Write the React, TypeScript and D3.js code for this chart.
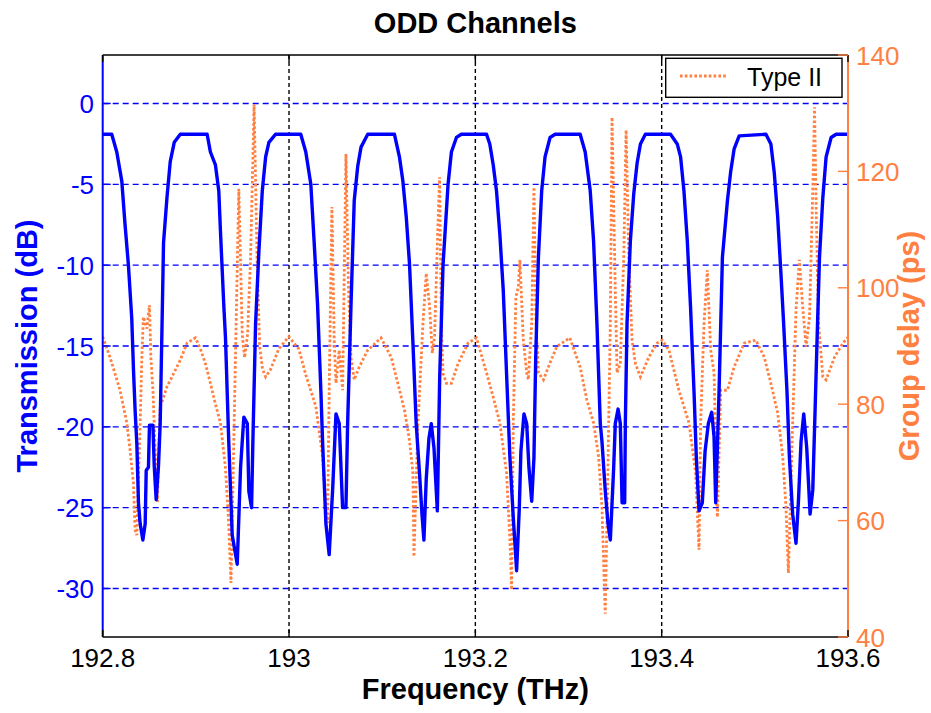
import React from "react";
import * as d3 from "d3";

const W = 931;
const H = 713;

// Transmission (dB) vs frequency (THz)
const transmission: [number, number][] = [
  [192.8, -1.9], [192.8097, -1.9], [192.8151, -3.0], [192.8205, -4.8], [192.824, -7.5],
  [192.8276, -10], [192.8312, -13.3], [192.833, -16.4], [192.8348, -19], [192.8366, -21],
  [192.8384, -24.7], [192.8402, -26], [192.8431, -27.0], [192.8456, -26], [192.8467, -22.7],
  [192.8491, -22.5], [192.8502, -19.9], [192.8539, -19.9], [192.8553, -22.4], [192.8574, -24.5],
  [192.8599, -22.4], [192.8617, -19.8], [192.8636, -14], [192.8653, -8.6], [192.869, -5.8],
  [192.8725, -3.6], [192.8768, -2.4], [192.8833, -1.9], [192.9121, -1.9], [192.9156, -3.0],
  [192.921, -3.8], [192.9246, -5.4], [192.9264, -7.9], [192.93, -12.5], [192.9318, -14.5],
  [192.9353, -20.9], [192.939, -26.7], [192.9444, -28.5], [192.948, -22.5], [192.9515, -19.4],
  [192.9552, -19.8], [192.9569, -24], [192.9598, -25], [192.9612, -20.9], [192.9641, -13.6],
  [192.9677, -9.1], [192.9713, -5.4], [192.9749, -3.3], [192.9784, -2.4], [192.9857, -1.9],
  [193.0126, -1.9], [193.018, -3], [193.0234, -5], [193.0269, -8.5], [193.0306, -12.4],
  [193.0342, -17.8], [193.036, -20.9], [193.0396, -26], [193.0431, -27.9], [193.0468, -23.9],
  [193.0504, -19.2], [193.0539, -19.8], [193.0575, -25], [193.0611, -25], [193.0629, -19.8],
  [193.0665, -12.5], [193.07, -6], [193.0737, -3.9], [193.0773, -2.7], [193.0845, -1.9],
  [193.1131, -1.9], [193.1185, -3.3], [193.1222, -4.8], [193.1258, -7], [193.1293, -9.9],
  [193.133, -14.8], [193.1365, -19.8], [193.1401, -22.9], [193.1427, -25.4], [193.1448, -27.0],
  [193.1473, -23.2], [193.1502, -20.7], [193.1527, -19.8], [193.1556, -21.3], [193.1592, -25.2],
  [193.1617, -17], [193.1653, -10], [193.1707, -5], [193.1743, -3], [193.1797, -2.1],
  [193.185, -1.9], [193.212, -1.9], [193.2155, -2.5], [193.2192, -3.8], [193.2227, -5.4],
  [193.2263, -8.1], [193.23, -11.6], [193.2335, -16.7], [193.2371, -21.9], [193.2407, -25.6],
  [193.2443, -28.9], [193.2472, -25], [193.2489, -21.5], [193.2522, -19.2], [193.2551, -19.8],
  [193.2575, -22.5], [193.2605, -24.6], [193.2629, -21.9], [193.2648, -15.7], [193.2677, -9.5],
  [193.2712, -5.4], [193.2748, -3.3], [193.2802, -2.1], [193.2856, -1.9], [193.3125, -1.9],
  [193.3179, -3], [193.3233, -5.4], [193.3269, -8.5], [193.3305, -13.6], [193.3341, -19.8],
  [193.3359, -20.9], [193.3395, -24], [193.3424, -26], [193.3449, -27], [193.3485, -22.5],
  [193.3502, -19.8], [193.3532, -18.9], [193.3556, -19.8], [193.3575, -24.7], [193.3603, -24.7],
  [193.361, -19.8], [193.3628, -13.6], [193.3664, -8.5], [193.37, -5.6], [193.3736, -3.7],
  [193.3772, -2.5], [193.3825, -1.9], [193.4095, -1.9], [193.4167, -2.5], [193.4203, -3.3],
  [193.4239, -5.4], [193.4275, -8.5], [193.431, -12.6], [193.4347, -17.8], [193.4372, -21.9],
  [193.4401, -25.2], [193.4436, -24.7], [193.4466, -21.5], [193.4501, -19.8], [193.4537, -19.1],
  [193.4562, -20.6], [193.458, -24.7], [193.4616, -17.8], [193.4652, -9.5], [193.4706, -6],
  [193.4741, -4.2], [193.4778, -2.8], [193.4832, -2], [193.5119, -1.9], [193.5172, -2.5],
  [193.5209, -4.3], [193.5245, -7], [193.528, -10.5], [193.5309, -13.6], [193.5345, -17.8],
  [193.5371, -21.9], [193.5406, -25.4], [193.5442, -27.2], [193.5468, -24.6], [193.5496, -20.9],
  [193.5525, -19.2], [193.5557, -21.3], [193.5593, -25.4], [193.5622, -23.9], [193.5647, -18.9],
  [193.5668, -14.6], [193.5694, -9.5], [193.573, -5.8], [193.5765, -3.3], [193.5819, -2.1],
  [193.5873, -1.9], [193.6, -1.9],
];

// Group delay (ps) vs frequency (THz) — "Type II"
const groupDelay: [number, number][] = [
  [192.8, 91.6], [192.808, 88], [192.8186, 82.4], [192.8259, 76.8], [192.8294, 72.1],
  [192.833, 66.4], [192.8348, 58.4], [192.8366, 57.5], [192.8402, 76.8], [192.842, 88],
  [192.8437, 95], [192.8474, 93], [192.8502, 97], [192.8517, 88], [192.8539, 82.4],
  [192.8564, 72], [192.8588, 63.2], [192.8599, 71], [192.8617, 79.5], [192.8653, 81.2],
  [192.869, 83], [192.8744, 84.7], [192.8833, 87.6], [192.8905, 90.5], [192.8995, 91.4],
  [192.9049, 89.5], [192.9102, 87], [192.9156, 83.6], [192.921, 80], [192.9264, 76.8],
  [192.9318, 69], [192.9351, 60], [192.9377, 49.3], [192.9415, 80], [192.9461, 117],
  [192.9498, 92], [192.9523, 88], [192.9555, 92], [192.9587, 105], [192.9625, 131.5],
  [192.9657, 105], [192.9684, 90], [192.9716, 86], [192.9749, 84.7], [192.9803, 86],
  [192.9889, 89.5], [192.9997, 91.6], [193.0105, 89.5], [193.0181, 85], [193.0288, 79.6],
  [193.036, 71], [193.0396, 62.4], [193.0414, 59.6], [193.0431, 82.4], [193.046, 113.9],
  [193.0485, 91], [193.0504, 83.6], [193.0539, 89.3], [193.0575, 82.4], [193.0611, 123],
  [193.0638, 100], [193.0665, 88], [193.07, 84.2], [193.0754, 86.4], [193.0845, 89.3],
  [193.0988, 91.4], [193.1096, 88.1], [193.1168, 83.6], [193.1239, 79], [193.1293, 73.8],
  [193.133, 68.2], [193.1341, 53.8], [193.1384, 76.8], [193.1438, 94], [193.1473, 102.5],
  [193.1509, 96.7], [193.1538, 88.8], [193.1562, 91.5], [193.1599, 111], [193.1616, 119],
  [193.1635, 94], [193.1653, 85.3], [193.1689, 83.6], [193.1743, 83.6], [193.1815, 87],
  [193.1922, 90.5], [193.2012, 91.4], [193.212, 85.4], [193.2192, 81.2], [193.2263, 76.8],
  [193.2335, 68.2], [193.2371, 56.7], [193.2389, 48.1], [193.2407, 76.8], [193.2435, 98.4],
  [193.2461, 100.1], [193.2478, 104.8], [193.2515, 91], [193.2551, 85.4], [193.2569, 84.2],
  [193.2605, 94], [193.2629, 117.3], [193.2651, 94], [193.2677, 85.4], [193.2731, 84.2],
  [193.2784, 86.4], [193.2874, 89.9], [193.3014, 91.4], [193.3125, 86.4], [193.3197, 80.7],
  [193.3269, 76.8], [193.3323, 71], [193.3359, 62.4], [193.3394, 44], [193.3424, 70],
  [193.3449, 94], [193.3467, 129.3], [193.3502, 99.6], [193.3521, 85.4], [193.3556, 87],
  [193.3593, 105.3], [193.3618, 127.1], [193.3647, 105.3], [193.3682, 91], [193.3718, 87],
  [193.3772, 84.7], [193.3862, 88.1], [193.3952, 90.5], [193.4005, 91], [193.4078, 89.3],
  [193.4185, 82.4], [193.4293, 76.8], [193.4364, 68.2], [193.4401, 55], [193.4418, 76.8],
  [193.4455, 94], [193.449, 103], [193.4526, 89.3], [193.4562, 85.4], [193.4598, 60.6],
  [193.4634, 82.4], [193.4706, 82.4], [193.4778, 86.4], [193.4886, 90.5], [193.5011, 91],
  [193.5101, 88.1], [193.5172, 83.6], [193.5245, 78.5], [193.5299, 71], [193.5334, 62.4],
  [193.536, 51], [193.5406, 76.8], [193.5442, 96.2], [193.5478, 104.8], [193.5514, 96.7],
  [193.555, 89.9], [193.5587, 95], [193.5622, 116.8], [193.5641, 131], [193.5658, 113.9],
  [193.5683, 94], [193.573, 84.7], [193.5765, 84.2], [193.5856, 88.1], [193.5945, 90.5],
  [193.6, 91.5],
];

const xTicks = [192.8, 193, 193.2, 193.4, 193.6];
const xGridTicks = [193, 193.2, 193.4];
const leftTicks = [-30, -25, -20, -15, -10, -5, 0];
const rightTicks = [40, 60, 80, 100, 120, 140];

const title = "ODD Channels";
const xLabel = "Frequency (THz)";
const leftLabel = "Transmission (dB)";
const rightLabel = "Group delay (ps)";
const legendLabel = "Type II";

const BLUE = "#0000ff";
const ORANGE = "#ff8040";
const FONT = "'Liberation Sans', Arial, Helvetica, sans-serif";

export default function App() {
  const left = 102.7;
  const right = 848;
  const top = 55;
  const bottom = 637;

  const x = d3.scaleLinear().domain([192.8, 193.6]).range([left, right]);
  const yL = d3.scaleLinear().domain([-33, 3]).range([bottom, top]);
  const yR = d3.scaleLinear().domain([40, 140]).range([bottom, top]);

  const lineT = d3
    .line<[number, number]>()
    .x((d) => x(d[0]))
    .y((d) => yL(d[1]));
  const lineG = d3
    .line<[number, number]>()
    .x((d) => x(d[0]))
    .y((d) => yR(d[1]));

  const fmt = (v: number) => String(+v.toFixed(1));

  return (
    <svg
      width={W}
      height={H}
      style={{ position: "absolute", left: 0, top: 0, background: "#fff" }}
      fontFamily={FONT}
    >
      <rect x={0} y={0} width={W} height={H} fill="#fff" />
      <defs>
        <clipPath id="plotClip">
          <rect x={left} y={top} width={right - left} height={bottom - top} />
        </clipPath>
      </defs>

      {/* grid */}
      {leftTicks.map((t) => (
        <line
          key={"hg" + t}
          x1={left}
          x2={right}
          y1={yL(t)}
          y2={yL(t)}
          stroke={BLUE}
          strokeWidth={1.4}
          strokeDasharray="6,4"
        />
      ))}
      {xGridTicks.map((t) => (
        <line
          key={"vg" + t}
          x1={x(t)}
          x2={x(t)}
          y1={top}
          y2={bottom}
          stroke="#000"
          strokeWidth={1.4}
          strokeDasharray="4,3"
        />
      ))}

      {/* data */}
      <g clipPath="url(#plotClip)">
        <path d={lineG(groupDelay) || ""} fill="none" stroke={ORANGE} strokeWidth={2.8} strokeDasharray="2.6,2.2" />
        <path d={lineT(transmission) || ""} fill="none" stroke={BLUE} strokeWidth={3.4} strokeLinejoin="round" />
      </g>

      {/* axes frame */}
      <line x1={left} x2={right} y1={top} y2={top} stroke="#000" strokeWidth={1.4} />
      <line x1={left} x2={right} y1={bottom} y2={bottom} stroke="#000" strokeWidth={1.6} />
      <line x1={left} x2={left} y1={top} y2={bottom} stroke={BLUE} strokeWidth={2} />
      <line x1={right} x2={right} y1={top} y2={bottom} stroke={ORANGE} strokeWidth={2} />

      {/* x ticks */}
      {xTicks.map((t) => (
        <g key={"xt" + t}>
          <line x1={x(t)} x2={x(t)} y1={bottom} y2={bottom - 7} stroke="#000" strokeWidth={1.4} />
          <line x1={x(t)} x2={x(t)} y1={top} y2={top + 7} stroke="#000" strokeWidth={1.4} />
          <text x={x(t)} y={667} textAnchor="middle" fontSize={26} fill="#000">
            {fmt(t)}
          </text>
        </g>
      ))}

      {/* left ticks */}
      {leftTicks.map((t) => (
        <g key={"lt" + t}>
          <line x1={left} x2={left + 8} y1={yL(t)} y2={yL(t)} stroke={BLUE} strokeWidth={1.4} />
          <text x={94} y={yL(t) + 9.5} textAnchor="end" fontSize={26} fill={BLUE}>
            {fmt(t)}
          </text>
        </g>
      ))}

      {/* right ticks */}
      {rightTicks.map((t) => (
        <g key={"rt" + t}>
          <line x1={right - 10} x2={right} y1={yR(t)} y2={yR(t)} stroke={ORANGE} strokeWidth={1.4} />
          <text x={856} y={yR(t) + 9.5} textAnchor="start" fontSize={26} fill={ORANGE}>
            {fmt(t)}
          </text>
        </g>
      ))}

      {/* labels */}
      <text x={(left + right) / 2} y={33} textAnchor="middle" fontSize={29} fontWeight="bold" fill="#000">
        {title}
      </text>
      <text x={(left + right) / 2} y={699} textAnchor="middle" fontSize={29} fontWeight="bold" fill="#000">
        {xLabel}
      </text>
      <text
        transform={`translate(37, ${(top + bottom) / 2}) rotate(-90)`}
        textAnchor="middle"
        fontSize={29}
        fontWeight="bold"
        fill={BLUE}
      >
        {leftLabel}
      </text>
      <text
        transform={`translate(919, ${(top + bottom) / 2}) rotate(-90)`}
        textAnchor="middle"
        fontSize={29}
        fontWeight="bold"
        fill={ORANGE}
      >
        {rightLabel}
      </text>

      {/* legend */}
      <rect x={665.7} y={58.3} width={176.3} height={39} fill="#fff" stroke="#000" strokeWidth={1.4} />
      <line x1={680} x2={728} y1={76} y2={76} stroke={ORANGE} strokeWidth={2.8} strokeDasharray="2.6,2.2" />
      <text x={747} y={86} fontSize={25} fill="#000">
        {legendLabel}
      </text>
    </svg>
  );
}
